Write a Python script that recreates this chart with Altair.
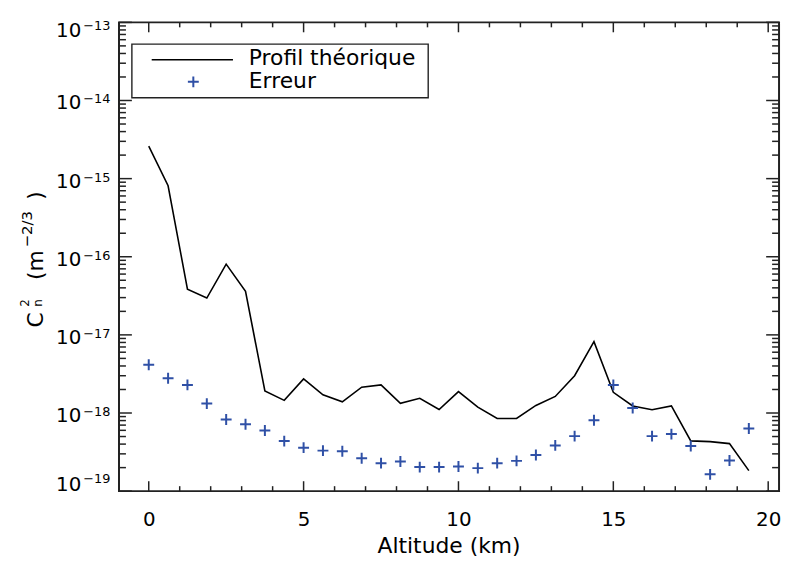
import altair as alt
import pandas as pd

# ---------------- data ----------------
altitude = [0.0, 0.625, 1.25, 1.875, 2.5, 3.125, 3.75, 4.375, 5.0, 5.625, 6.25,
            6.875, 7.5, 8.125, 8.75, 9.375, 10.0, 10.625, 11.25, 11.875, 12.5,
            13.125, 13.75, 14.375, 15.0, 15.625, 16.25, 16.875, 17.5, 18.125,
            18.75, 19.375]
profil = [2.6e-15, 8.1e-16, 3.85e-17, 2.96e-17, 8.05e-17, 3.6e-17, 1.92e-18,
          1.45e-18, 2.73e-18, 1.71e-18, 1.39e-18, 2.14e-18, 2.29e-18, 1.33e-18,
          1.54e-18, 1.11e-18, 1.88e-18, 1.19e-18, 8.5e-19, 8.5e-19, 1.25e-18,
          1.63e-18, 3.0e-18, 8.2e-18, 1.84e-18, 1.23e-18, 1.10e-18, 1.23e-18,
          4.4e-19, 4.3e-19, 4.06e-19, 1.83e-19]
erreur = [4.14e-18, 2.78e-18, 2.29e-18, 1.32e-18, 8.24e-19, 7.18e-19, 5.97e-19,
          4.37e-19, 3.6e-19, 3.30e-19, 3.24e-19, 2.64e-19, 2.28e-19, 2.39e-19,
          2.03e-19, 2.03e-19, 2.07e-19, 1.97e-19, 2.28e-19, 2.44e-19, 2.9e-19,
          3.85e-19, 5.06e-19, 8.07e-19, 2.29e-18, 1.16e-18, 5.06e-19, 5.37e-19,
          3.79e-19, 1.64e-19, 2.47e-19, 6.34e-19]
series_names = ["Profil théorique", "Erreur"]
x_major = [0, 5, 10, 15, 20]
x_minor = [1, 2, 3, 4, 6, 7, 8, 9, 11, 12, 13, 14, 16, 17, 18, 19]
y_exponents = [-13, -14, -15, -16, -17, -18, -19]
y_major = [10.0 ** e for e in y_exponents]
y_minor = [k * 10.0 ** e for e in range(-19, -13) for k in range(2, 10)]

# ---------------- layout / style ----------------
W, H = 666, 473
FONT = "DejaVu Sans"
BLUE = "#2f50a6"
FRAME = "#222222"
CROSS = "M-1,0L1,0M0,-1L0,1"

xs = alt.Scale(domain=[-0.96, 20.35], nice=False, zero=False)
ys = alt.Scale(type="log", domain=[1e-19, 1e-13], nice=False)

df = pd.DataFrame({"alt": altitude, "profil": profil, "erreur": erreur})

X_AXIS = alt.Axis(
    values=x_major, format="d", title=None, grid=False, ticks=False,
    tickSize=0, domain=False, labelFont=FONT, labelFontSize=20, labelColor="black",
    labelPadding=19)
Y_AXIS = alt.Axis(values=y_major, labels=False, title=None, grid=False, ticks=False,
                  tickSize=0, domain=False)

line = alt.Chart(df).mark_line(color="black", strokeWidth=1.6, clip=True).encode(
    x=alt.X("alt:Q", scale=xs, axis=X_AXIS),
    y=alt.Y("profil:Q", scale=ys, axis=Y_AXIS),
)

pts = alt.Chart(df).mark_point(shape=CROSS, size=121, filled=False, color=BLUE,
                               strokeWidth=2, opacity=1).encode(
    x=alt.X("alt:Q", scale=xs, axis=X_AXIS),
    y=alt.Y("erreur:Q", scale=ys, axis=Y_AXIS),
)


def xticks(vals, L, top):
    d = pd.DataFrame({"alt": vals})
    y0, y1 = (0, L) if top else (H, H - L)
    return alt.Chart(d).mark_rule(color=FRAME, strokeWidth=1.5).encode(
        x=alt.X("alt:Q", scale=xs, axis=X_AXIS), y=alt.value(y0), y2=alt.value(y1))


def yticks(vals, L, right):
    d = pd.DataFrame({"profil": vals})
    x0, x1 = (W, W - L) if right else (0, L)
    return alt.Chart(d).mark_rule(color=FRAME, strokeWidth=1.5).encode(
        y=alt.Y("profil:Q", scale=ys, axis=Y_AXIS), x=alt.value(x0), x2=alt.value(x1))


tick_layers = [
    xticks(x_major, 10, False), xticks(x_minor, 5, False),
    xticks(x_major, 10, True), xticks(x_minor, 5, True),
    yticks(y_major, 13, False), yticks(y_minor, 7, False),
    yticks(y_major, 13, True), yticks(y_minor, 7, True),
]

# y tick labels "10" + exponent, as text marks placed through the y scale
ylab = pd.DataFrame({"profil": y_major,
                     "exp": ["−" + str(-e) for e in y_exponents]})
groups = [(ylab.iloc[:1], 15, 7.3), (ylab.iloc[1:-1], 9, 3), (ylab.iloc[-1:], 0, -8)]
ylabel_layers = []
for part, dy_base, dy_exp in groups:
    ylabel_layers.append(alt.Chart(part).mark_text(
        text="10", font=FONT, fontSize=20, color="black", align="right",
        baseline="alphabetic", dy=dy_base).encode(
        x=alt.value(-38), y=alt.Y("profil:Q", scale=ys, axis=Y_AXIS)))
    ylabel_layers.append(alt.Chart(part).mark_text(
        font=FONT, fontSize=13, color="black", align="left",
        baseline="alphabetic", dy=dy_exp).encode(
        x=alt.value(-36), y=alt.Y("profil:Q", scale=ys, axis=Y_AXIS),
        text="exp:N"))

one = pd.DataFrame({"a": [0]})


def txt(text, x, y, size, angle=0, align="left"):
    return alt.Chart(one).mark_text(
        text=text, font=FONT, fontSize=size, color="black", align=align,
        baseline="alphabetic", angle=angle).encode(x=alt.value(x), y=alt.value(y))


# legend
leg_box = alt.Chart(one).mark_rect(fill="white", stroke=FRAME, strokeWidth=1.4).encode(
    x=alt.value(13), x2=alt.value(312), y=alt.value(22), y2=alt.value(76))
leg_line = alt.Chart(one).mark_rule(color="black", strokeWidth=1.6).encode(
    x=alt.value(33), x2=alt.value(115), y=alt.value(37.7))
leg_pt = alt.Chart(one).mark_point(shape=CROSS, size=121, filled=False, color=BLUE,
                                   strokeWidth=2, opacity=1).encode(
    x=alt.value(75), y=alt.value(60))
leg_t1 = txt(series_names[0], 131, 43.3, 22)
leg_t2 = txt(series_names[1], 131, 66, 22)

# axis titles
xtitle = txt("Altitude (km)", 333, 535, 22, align="center")
ytitle = [
    txt("C", -77, 308, 22, 270),
    txt("2", -91, 287, 12, 270),
    txt("n", -78, 287, 12, 270),
    txt("(m", -77, 260, 22, 270),
    txt("−2/3", -88, 227, 15, 270),
    txt(")", -77, 179, 22, 270),
]

chart = alt.layer(
    line, pts, *tick_layers, *ylabel_layers, leg_box, leg_line, leg_pt, leg_t1,
    leg_t2, xtitle, *ytitle
).properties(
    width=W, height=H,
    padding={"left": 112, "top": 12, "right": 4, "bottom": 68},
    autosize=alt.AutoSizeParams(type="none"),
    background="white",
).configure_view(stroke=FRAME, strokeWidth=2)

chart.save("out.html", embed_options={"renderer": "svg", "actions": False})
